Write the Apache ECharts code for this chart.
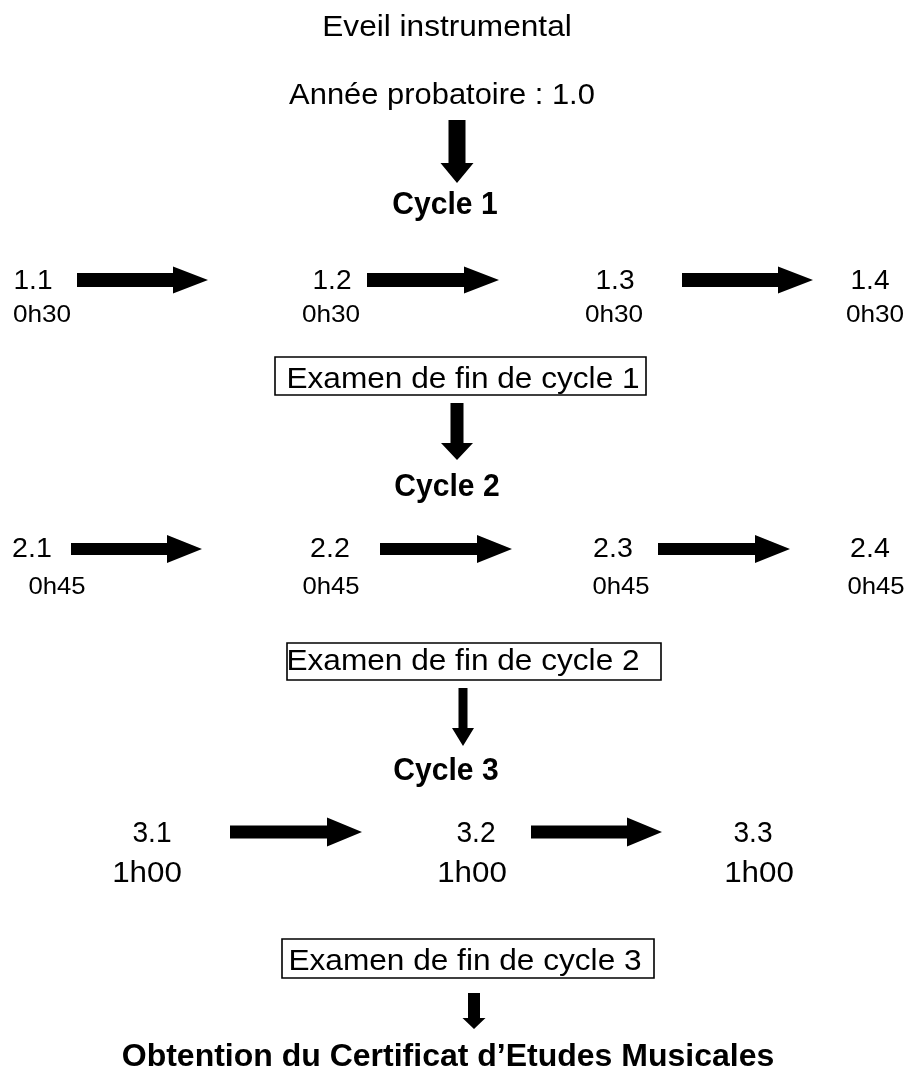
<!DOCTYPE html>
<html>
<head>
<meta charset="utf-8">
<script src="https://cdn.jsdelivr.net/npm/echarts@6/dist/echarts.min.js"></script>
<style>
html,body{margin:0;padding:0;background:#fff;}
#chart{width:909px;height:1080px;}
</style>
</head>
<body>
<div id="chart"></div>
<script>
// ---- content ----
const titleLabels = ['Eveil instrumental', 'Année probatoire : 1.0'];
const cycleNames = ['Cycle 1', 'Cycle 2', 'Cycle 3'];
const levelLabels = [
  ['1.1', '1.2', '1.3', '1.4'],
  ['2.1', '2.2', '2.3', '2.4'],
  ['3.1', '3.2', '3.3']
];
const durationLabels = [
  ['0h30', '0h30', '0h30', '0h30'],
  ['0h45', '0h45', '0h45', '0h45'],
  ['1h00', '1h00', '1h00']
];
const examLabels = ['Examen de fin de cycle 1', 'Examen de fin de cycle 2', 'Examen de fin de cycle 3'];
const finalLabel = 'Obtention du Certificat d\u2019Etudes Musicales';

// ---- layout (diagram coordinates on hidden 909 x 1080 axes) ----
const titlePos = [[447, 26], [442, 94]];
const cyclePos = [[445, 203], [447, 485], [446, 769]];
const levelX = [[33, 332, 615, 870], [32, 330, 613, 870], [152, 476, 753]];
const levelY = [280, 548, 832];
const durationX = [[42, 331, 614, 875], [57, 331, 621, 876], [147, 472, 759]];
const durationY = [313, 585, 872];
const examPos = [[463, 378], [463, 660], [465, 960]];
const examBoxes = [[275, 357, 646, 395], [287, 643, 661, 680], [282, 939, 654, 978]];
const finalPos = [448, 1055];
// horizontal arrows: [xStart, xEnd, y]
const hArrows = [
  [77, 208, 280], [367, 499, 280], [682, 813, 280],
  [71, 202, 549], [380, 512, 549], [658, 790, 549],
  [230, 362, 832], [531, 662, 832]
];
// vertical arrows: [x, yStart, yEnd]
const vArrows = [[457, 120, 183], [457, 403, 460], [463, 688, 746], [474, 993, 1029]];

// ---- styles ----
const FONT = "'Liberation Sans', Arial, Helvetica, sans-serif";
const TEXT_DY = 2;
const textStyles = {
  eveil: {size: 29, weight: 'normal', sx: 1.09},
  annee: {size: 30, weight: 'normal', sx: 1.03},
  cycle: {size: 31, weight: 'bold', sx: 0.97},
  lvl1: {size: 27, weight: 'normal', sx: 1.04},
  dur1: {size: 24, weight: 'normal', sx: 1.09},
  lvl2: {size: 27, weight: 'normal', sx: 1.06},
  dur2: {size: 24, weight: 'normal', sx: 1.07},
  lvl3: {size: 29, weight: 'normal', sx: 0.97},
  dur3: {size: 29, weight: 'normal', sx: 1.08},
  exam: {size: 29, weight: 'normal', sx: 1.09},
  fin: {size: 32, weight: 'bold', sx: 1.0}
};
const hArrowStyle = [
  {shaft: 14, head: 27, len: 35}, {shaft: 14, head: 27, len: 35}, {shaft: 14, head: 27, len: 35},
  {shaft: 12, head: 28, len: 35}, {shaft: 12, head: 28, len: 35}, {shaft: 12, head: 28, len: 35},
  {shaft: 13, head: 29, len: 35}, {shaft: 13, head: 29, len: 35}
];
const vArrowStyle = [
  {shaft: 17, head: 33, len: 20}, {shaft: 13, head: 32, len: 17},
  {shaft: 9, head: 22, len: 18}, {shaft: 12, head: 23, len: 11}
];

// ---- build node table ----
const nodes = [];
titleLabels.forEach((t, i) => nodes.push({pos: titlePos[i], text: t, st: i === 0 ? 'eveil' : 'annee'}));
cycleNames.forEach((t, i) => nodes.push({pos: cyclePos[i], text: t, st: 'cycle'}));
levelLabels.forEach((row, r) => row.forEach((t, c) => nodes.push({pos: [levelX[r][c], levelY[r]], text: t, st: 'lvl' + (r + 1)})));
durationLabels.forEach((row, r) => row.forEach((t, c) => nodes.push({pos: [durationX[r][c], durationY[r]], text: t, st: 'dur' + (r + 1)})));
examLabels.forEach((t, i) => nodes.push({pos: examPos[i], text: t, st: 'exam'}));
nodes.push({pos: finalPos, text: finalLabel, st: 'fin'});

const chart = echarts.init(document.getElementById('chart'), null, {renderer: 'canvas'});

const option = {
  backgroundColor: '#ffffff',
  animation: false,
  grid: {left: 0, right: 0, top: 0, bottom: 0},
  xAxis: {type: 'value', min: 0, max: 909, show: false},
  yAxis: {type: 'value', min: 0, max: 1080, inverse: true, show: false},
  series: [
    {
      type: 'custom',
      name: 'boxes',
      coordinateSystem: 'cartesian2d',
      data: examBoxes.map(b => b.slice()),
      renderItem: function (params, api) {
        const p0 = api.coord([api.value(0), api.value(1)]);
        const p1 = api.coord([api.value(2), api.value(3)]);
        return {
          type: 'rect',
          shape: {x: p0[0], y: p0[1], width: p1[0] - p0[0], height: p1[1] - p0[1]},
          style: {fill: '#ffffff', stroke: '#000000', lineWidth: 1.6}
        };
      },
      z: 1
    },
    {
      type: 'custom',
      name: 'hArrows',
      coordinateSystem: 'cartesian2d',
      data: hArrows.map(a => a.slice()),
      renderItem: function (params, api) {
        const s = hArrowStyle[params.dataIndex];
        const a = api.coord([api.value(0), api.value(2)]);
        const b = api.coord([api.value(1), api.value(2)]);
        const y = a[1], x0 = a[0], x1 = b[0], hx = x1 - s.len;
        return {
          type: 'polygon',
          shape: {points: [
            [x0, y - s.shaft / 2], [hx, y - s.shaft / 2], [hx, y - s.head / 2], [x1, y],
            [hx, y + s.head / 2], [hx, y + s.shaft / 2], [x0, y + s.shaft / 2]
          ]},
          style: {fill: '#000000'}
        };
      },
      z: 2
    },
    {
      type: 'custom',
      name: 'vArrows',
      coordinateSystem: 'cartesian2d',
      data: vArrows.map(a => a.slice()),
      renderItem: function (params, api) {
        const s = vArrowStyle[params.dataIndex];
        const a = api.coord([api.value(0), api.value(1)]);
        const b = api.coord([api.value(0), api.value(2)]);
        const x = a[0], y0 = a[1], y1 = b[1], hy = y1 - s.len;
        return {
          type: 'polygon',
          shape: {points: [
            [x - s.shaft / 2, y0], [x + s.shaft / 2, y0], [x + s.shaft / 2, hy], [x + s.head / 2, hy],
            [x, y1], [x - s.head / 2, hy], [x - s.shaft / 2, hy]
          ]},
          style: {fill: '#000000'}
        };
      },
      z: 2
    },
    {
      type: 'custom',
      name: 'labels',
      coordinateSystem: 'cartesian2d',
      data: nodes.map(n => [n.pos[0], n.pos[1]]),
      renderItem: function (params, api) {
        const n = nodes[params.dataIndex];
        const st = textStyles[n.st];
        const p = api.coord([api.value(0), api.value(1)]);
        return {
          type: 'text',
          x: p[0],
          y: p[1] + TEXT_DY,
          scaleX: st.sx,
          style: {
            text: n.text,
            x: 0,
            y: 0,
            align: 'center',
            verticalAlign: 'middle',
            fontFamily: FONT,
            fontSize: st.size,
            fontWeight: st.weight,
            fill: '#000000'
          }
        };
      },
      z: 3
    }
  ]
};
chart.setOption(option);
</script>
</body>
</html>
